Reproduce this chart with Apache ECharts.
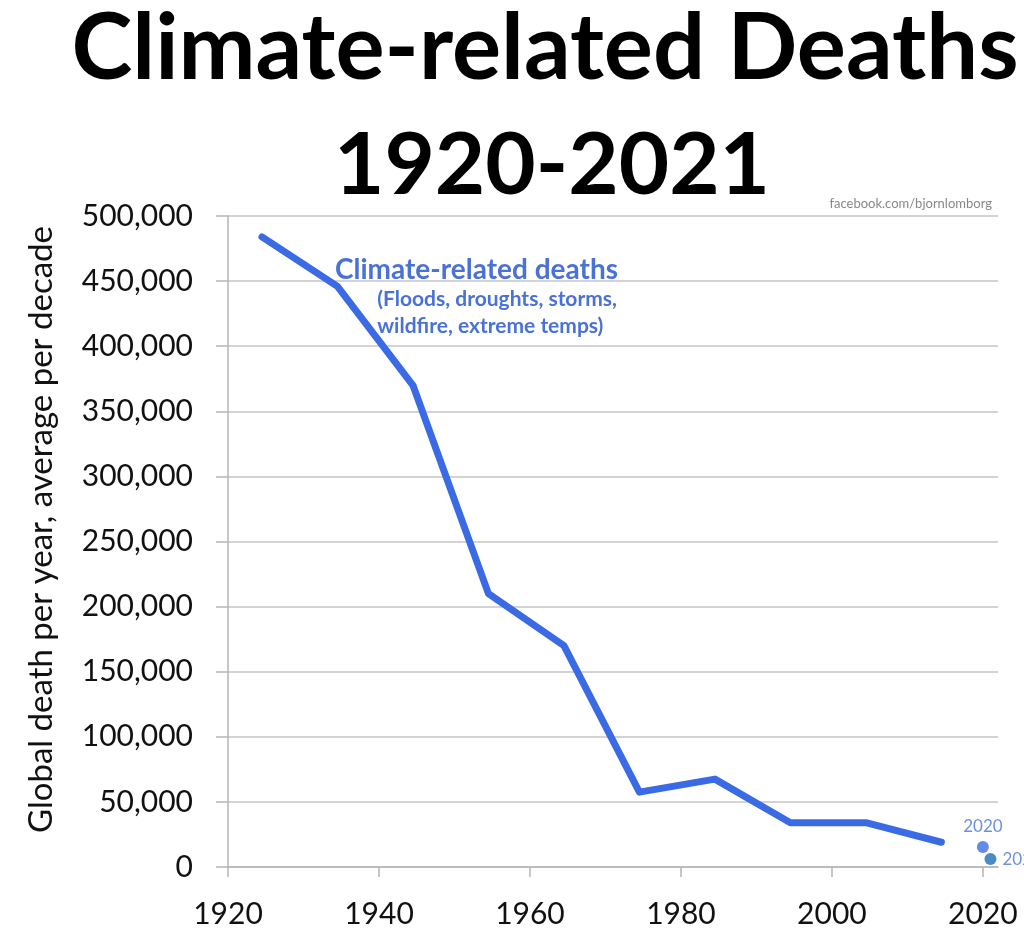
<!DOCTYPE html>
<html>
<head>
<meta charset="utf-8">
<script src="https://cdn.jsdelivr.net/npm/echarts@6/dist/echarts.min.js"></script>
<style>
  html, body { margin: 0; padding: 0; background: #ffffff; }
  #main { width: 1024px; height: 931px; }
</style>
</head>
<body>
<div id="main"></div>
<script>
// decade averages, plotted at mid-decade
var decadeYears = [1924.5, 1934.5, 1944.5, 1954.5, 1964.5, 1974.5, 1984.5, 1994.5, 2004.5, 2014.5];
var decadeDeaths = [484000, 446000, 370000, 210000, 170000, 57500, 67500, 34000, 34000, 19000];
// single years
var singleYears = [2020, 2021];
var singleDeaths = [15400, 6100];
var xTicks = [1920, 1940, 1960, 1980, 2000, 2020];

var lineBlue = '#3b6be4';
var textBlue = '#4a72d6';

var myChart = echarts.init(document.getElementById('main'));

var option = {
  animation: false,
  textStyle: { fontFamily: 'Lato' },
  title: [
    {
      text: 'Climate-related Deaths',
      left: 540, top: -2, textAlign: 'center',
      textStyle: { fontSize: 92, fontWeight: 'bold', color: '#000', fontFamily: 'Lato' }
    },
    {
      text: '1920-2021',
      left: 547, top: 117, textAlign: 'center',
      textStyle: { fontSize: 87, fontWeight: 'bold', color: '#000', fontFamily: 'Lato' }
    },
    {
      text: 'facebook.com/bjornlomborg',
      right: 27, top: 192,
      textStyle: { fontSize: 13, fontWeight: 'normal', color: '#888', fontFamily: 'Lato' }
    },
    {
      text: 'Climate-related deaths',
      left: 330, top: 251,
      textStyle: { fontSize: 28, fontWeight: 'bold', color: textBlue, fontFamily: 'Lato' }
    },
    {
      text: '(Floods, droughts, storms,\nwildfire, extreme temps)',
      right: 402, top: 281,
      textStyle: { fontSize: 21, fontWeight: 'bold', color: textBlue, fontFamily: 'Lato', lineHeight: 27, align: 'right' }
    }
  ],
  grid: {
    left: 228, right: 26, top: 216, bottom: 64
  },
  xAxis: {
    type: 'value',
    min: 1920, max: 2022,
    interval: 20,
    splitLine: { show: false },
    axisLine: { lineStyle: { color: '#b5b5b5', width: 1.5 } },
    axisTick: { show: true, length: 10, lineStyle: { color: '#b5b5b5', width: 1.5 }, customValues: xTicks },
    axisLabel: {
      customValues: xTicks,
      color: '#111', fontSize: 30, margin: 32, fontFamily: 'Lato',
      formatter: function (v) { return String(v); }
    }
  },
  yAxis: {
    type: 'value',
    min: 0, max: 500000, interval: 50000,
    name: 'Global death per year, average per decade',
    nameLocation: 'middle',
    nameGap: 170,
    nameRotate: 90,
    nameTextStyle: { fontSize: 33, color: '#111', fontFamily: 'Lato', padding: [0, 0, 0, 24] },
    axisLine: { show: true, lineStyle: { color: '#b5b5b5', width: 1.5 } },
    axisTick: { show: true, inside: false, length: 12, lineStyle: { color: '#b5b5b5', width: 1.5 } },
    splitLine: { lineStyle: { color: '#c4c4c4', width: 1.5 } },
    axisLabel: {
      color: '#111', fontSize: 30, margin: 35, fontFamily: 'Lato',
      formatter: function (v) { return v.toLocaleString('en-US'); }
    }
  },
  series: [
    {
      name: 'Climate-related deaths',
      type: 'line',
      data: decadeYears.map(function (y, i) { return [y, decadeDeaths[i]]; }),
      showSymbol: false,
      lineStyle: { color: lineBlue, width: 7, cap: 'round', join: 'round' }
    },
    {
      name: 'Single years',
      type: 'scatter',
      symbolSize: 12,
      data: singleYears.map(function (y, i) {
        return {
          value: [y, singleDeaths[i]],
          itemStyle: { color: i === 0 ? '#3a6ee0' : '#1d6fb4' },
          label: i === 0
            ? { show: true, position: 'top', distance: 6 }
            : { show: true, position: 'right', distance: 6 }
        };
      }),
      label: {
        color: textBlue, fontSize: 17, fontFamily: 'Lato',
        formatter: function (p) { return String(p.value[0]); }
      }
    }
  ]
};

myChart.setOption(option);
</script>
</body>
</html>
